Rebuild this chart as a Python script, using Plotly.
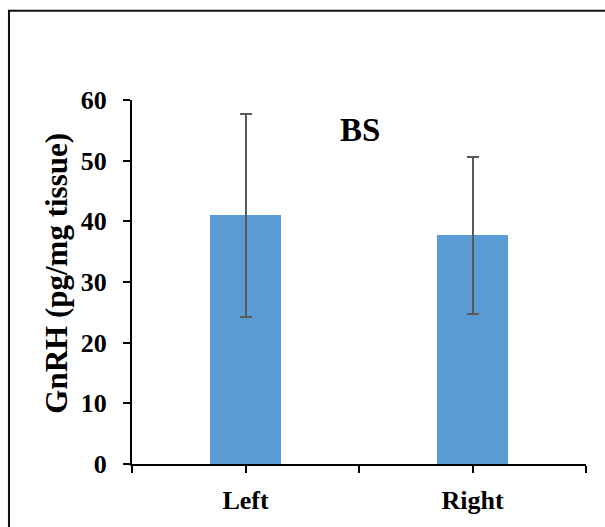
import plotly.graph_objects as go

# GnRH content by side, brain region BS
categories = ["Left", "Right"]
means = [41.0, 37.7]
errors = [16.7, 12.9]
y_ticks = [0, 10, 20, 30, 40, 50, 60]
panel_label = "BS"
y_title = "GnRH (pg/mg tissue)"

FONT = "Liberation Serif, Times New Roman, serif"
positions = list(range(len(categories)))

fig = go.Figure()
fig.add_trace(go.Bar(
    x=positions,
    y=means,
    width=0.313,
    marker=dict(color="#5B9BD5", line=dict(width=0)),
    error_y=dict(type="data", array=errors, visible=True,
                 color="#595959", thickness=2, width=6),
    showlegend=False,
))

# tick marks at category centres and category boundaries
x_tickvals = [-0.5] + [v for p in positions for v in (p, p + 0.5)]
x_ticktext = [categories[int(v)] if float(v).is_integer() and v >= 0 else "" for v in x_tickvals]

fig.update_layout(
    width=605, height=527,
    margin=dict(l=132, r=19, t=100, b=60),
    paper_bgcolor="white", plot_bgcolor="white",
    font=dict(family=FONT, color="black", size=26, weight="bold"),
    bargap=0,
    xaxis=dict(
        range=[-0.5, 1.5], tickvals=x_tickvals, ticktext=x_ticktext,
        ticks="outside", ticklen=7, tickwidth=2, tickcolor="black",
        showline=True, linecolor="black", linewidth=2,
        showgrid=False, zeroline=False,
        tickfont=dict(family=FONT, size=26, weight="bold"),
        ticklabelstandoff=5,
    ),
    yaxis=dict(
        range=[0, 60], tickvals=y_ticks,
        ticks="outside", ticklen=7, tickwidth=2, tickcolor="black",
        showline=True, linecolor="black", linewidth=2,
        showgrid=False, zeroline=False,
        tickfont=dict(family=FONT, size=26, weight="bold"),
        ticklabelstandoff=11,
    ),
    annotations=[
        dict(
            text=panel_label, xref="paper", yref="y", x=0.502, y=55.1,
            showarrow=False, xanchor="center", yanchor="middle",
            font=dict(family=FONT, size=33, weight="bold"),
        ),
        # vertical axis title
        dict(
            text=y_title, xref="paper", yref="paper", x=-0.165, y=0.523,
            textangle=-90, showarrow=False, xanchor="center", yanchor="middle",
            font=dict(family=FONT, size=31, weight="bold"),
        ),
    ],
    shapes=[dict(
        type="rect", xref="paper", yref="paper",
        x0=-0.271, x1=1.2, y0=-0.4, y1=1.2455,
        line=dict(color="#111111", width=2), fillcolor="rgba(0,0,0,0)",
        layer="below",
    )],
)

fig.write_html("out.html")
